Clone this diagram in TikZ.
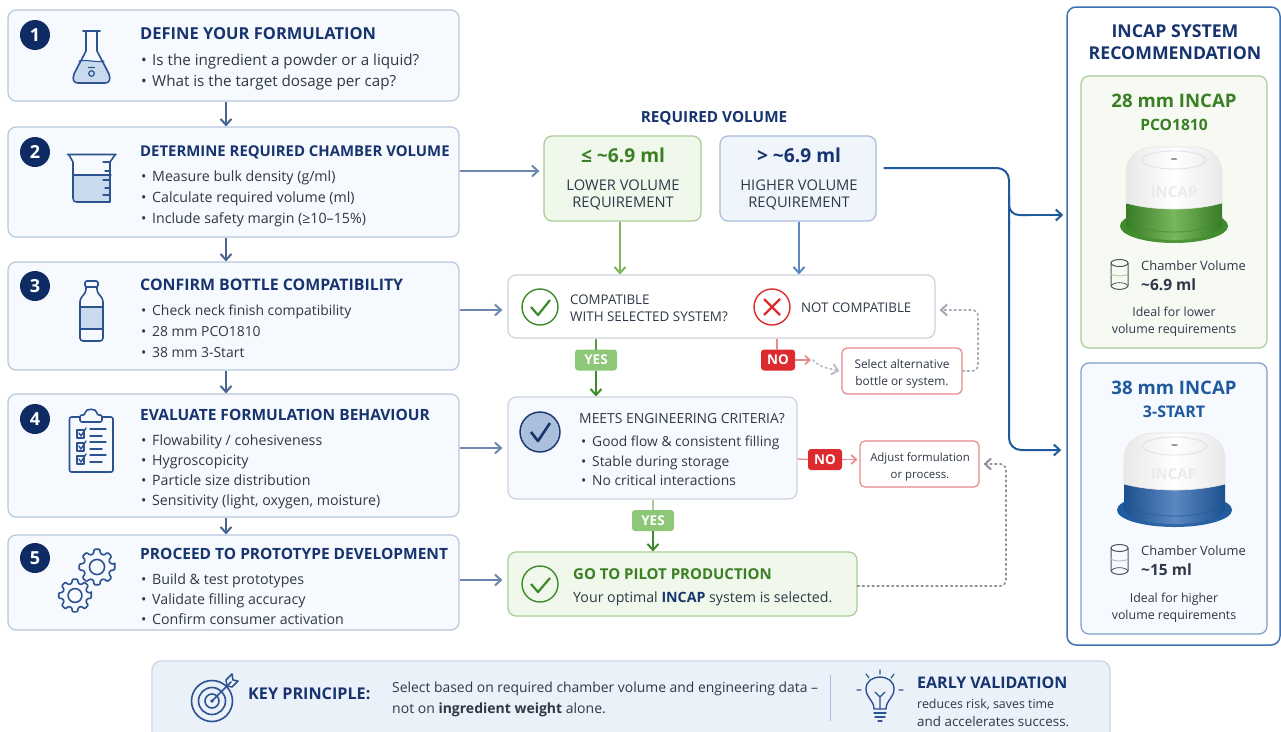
\documentclass[tikz,border=0pt]{standalone}
\usepackage{fontspec}
\setmainfont{Open Sans}
\usetikzlibrary{arrows.meta,calc,positioning}
\newcommand{\fsz}[1]{\fontsize{#1pt}{#1pt}\selectfont}
\definecolor{navy}{HTML}{17346F}
\definecolor{badge}{HTML}{0E2C63}
\definecolor{ink}{HTML}{2F3848}
\definecolor{icon}{HTML}{2C528F}
\definecolor{iconfill}{HTML}{C9DAEE}
\definecolor{stepfill}{HTML}{F6F9FD}
\definecolor{stepline}{HTML}{B7C7DE}
\definecolor{gfill}{HTML}{F0F7EB}
\definecolor{gline}{HTML}{A8CC96}
\definecolor{gtitle}{HTML}{3B7F24}
\definecolor{gdark}{HTML}{3E8A2B}
\definecolor{garrow}{HTML}{78B75C}
\definecolor{gyes}{HTML}{8CC877}
\definecolor{bfill}{HTML}{F0F5FB}
\definecolor{bline}{HTML}{A6BCDB}
\definecolor{barrow}{HTML}{5B87C2}
\definecolor{flowc}{HTML}{6F87AE}
\definecolor{flowd}{HTML}{48658F}
\definecolor{mline}{HTML}{CDD3DC}
\definecolor{redc}{HTML}{DC2A2E}
\definecolor{redl}{HTML}{E7888B}
\definecolor{dotc}{HTML}{A3A9B5}
\definecolor{panelc}{HTML}{3F72B5}
\definecolor{route}{HTML}{1F5A9E}
\definecolor{card}{HTML}{7F9DC6}
\definecolor{keyfill}{HTML}{EBF1F9}
\tikzset{
  x=1pt,y=-1pt,
  rbox/.style={inner sep=0pt,rounded corners=#1,line width=1.2pt},
  rbox/.default=8pt,
  stepbox/.style={rbox,draw=stepline,fill=stepfill,minimum width=451pt},
  greenbox/.style={rbox,draw=gline,fill=gfill},
  bluebox/.style={rbox,draw=bline,fill=bfill},
  whitebox/.style={rbox,draw=mline,fill=white},
  redbox/.style={rbox=5pt,draw=redl,fill=white},
  badgec/.style={circle,fill=badge,text=white,minimum size=30pt,inner sep=0pt,font=\fsz{18}\bfseries},
  lbl/.style={inner sep=0pt,text height=7.2pt,text depth=2pt,anchor=west,yshift=-3pt},
  clbl/.style={inner sep=0pt,text height=7.2pt,text depth=2pt,anchor=center,yshift=-3pt},
  title/.style={lbl,font=\fsz{#1}\bfseries,text=navy},
  title/.default=15.5,
  body/.style={lbl,font=\fsz{#1},text=ink},
  body/.default=14.2,
  small/.style={clbl,font=\fsz{#1},text=ink},
  small/.default=11.4,
  caps/.style={clbl,font=\fsz{14.7},text=ink},
  tag/.style={rbox=3pt,text=white,font=\fsz{13.5}\bfseries,minimum height=21pt,line width=0pt},
  flow/.style={-{Straight Barb[length=6pt,width=11pt,line width=2pt]},line width=2pt,color=flowc},
  flowdn/.style={flow,color=flowd},
  dotflow/.style={-{Straight Barb[length=6pt,width=11pt,line width=2pt]},color=dotc,line width=1.7pt,dash pattern=on 1.7pt off 3.2pt,line cap=round,rounded corners=6pt},
  ic/.style={color=icon,line width=1.6pt,line join=round,line cap=round},
}
\newcommand{\bul}[1]{\makebox[11pt][l]{•}#1}
% cap drawing: cx, top, rx, bandtop, flange cy, flange rx, flange ry, dark, light
\newcommand{\incapcap}[9]{
  \shade[left color=#8,right color=#8,middle color=#8!70!#9] (#1,#5) ellipse[x radius=#6,y radius=#7];
  \shade[left color=#8!90!black,right color=#8!90!black,middle color=#9]
    (#1-#3,#4) -- (#1-#3,#5) .. controls (#1-#3+12,#5+#7*1.1) and (#1+#3-12,#5+#7*1.1) .. (#1+#3,#5) -- (#1+#3,#4) -- cycle;
  \draw[#8,line width=1pt,opacity=.6] (#1-#3,#5-8) .. controls (#1-#3+12,#5-8+#7*1.1) and (#1+#3-12,#5-8+#7*1.1) .. (#1+#3,#5-8);
  \shade[left color=black!9,right color=black!9,middle color=white,draw=black!10,line width=.6pt]
    (#1-#3,#4) -- (#1-#3,#2+27) .. controls (#1-#3,#2+8) and (#1-#3+14,#2) .. (#1-20,#2)
    -- (#1+20,#2) .. controls (#1+#3-14,#2) and (#1+#3,#2+8) .. (#1+#3,#2+27)
    -- (#1+#3,#4) .. controls (#1+20,#4+8) and (#1-20,#4+8) .. cycle;
  \draw[black!12,line width=.8pt] (#1,#2+13) ellipse[x radius=32,y radius=9];
  \fill[black!40] (#1,#2+12) ellipse[x radius=3.5,y radius=1];
}
\newcommand{\cyl}[4]{% cx, top, bottom, level colour
  \draw[color=ink!85,line width=1pt] (#1,#2) ellipse[x radius=8.5,y radius=3.5];
  \draw[color=ink!85,line width=1pt] (#1-8.5,#2) -- (#1-8.5,#3) .. controls (#1-6,#3+4.5) and (#1+6,#3+4.5) .. (#1+8.5,#3) -- (#1+8.5,#2);
  \draw[color=ink!85,line width=.8pt] (#1-8.5,#3) .. controls (#1-6,#3-4.5) and (#1+6,#3-4.5) .. (#1+8.5,#3);
  \draw[color=#4,line width=.9pt] (#1-8.5,#2+11) .. controls (#1-6,#2+13.5) and (#1+6,#2+13.5) .. (#1+8.5,#2+11);
}
\newcommand{\gearic}[3]{% cx, cy, outer radius
  \draw[ic,rounded corners=1pt] ($(#1,#2)+(-9:#3)$)
    \foreach \t in {0,45,...,315}{
      -- ($(#1,#2)+(\t-9:#3)$) -- ($(#1,#2)+(\t+9:#3)$)
      -- ($(#1,#2)+(\t+15:#3*0.76)$) -- ($(#1,#2)+(\t+30:#3*0.76)$)
    } -- cycle;
  \draw[ic] (#1,#2) circle[radius=#3*0.42];
}
\begin{document}
\begin{tikzpicture}
\useasboundingbox (0,0) rectangle (1281,731);
\fill[white] (0,0) rectangle (1281,731);
\begin{scope}
\clip (0,0) rectangle (1281,731);

% ---------- Steps
\node[stepbox,minimum height=91pt]  (s1) at (233.5,55.5) {};
\node[stepbox,minimum height=110pt] (s2) at (233.5,182) {};
\node[stepbox,minimum height=108pt] (s3) at (233.5,316) {};
\node[stepbox,minimum height=123pt] (s4) at (233.5,455.5) {};
\node[stepbox,minimum height=95pt]  (s5) at (233.5,582.5) {};

\node[badgec] (b1) at (35,35) {1};
\node[badgec] (b2) at (35,152) {2};
\node[badgec] (b3) at (35,286) {3};
\node[badgec] (b4) at (35,419) {4};
\node[badgec] (b5) at (35,558) {5};

\node[title=16.5] (t1) at (140,33.5) {DEFINE YOUR FORMULATION};
\node[body=15.2] (t1a) at (141,60) {\bul{Is the ingredient a powder or a liquid?}};
\node[body=15.2] (t1b) at (141,81) {\bul{What is the target dosage per cap?}};

\node[title=14.9] (t2) at (140,150.5) {DETERMINE REQUIRED CHAMBER VOLUME};
\node[body] (t2a) at (141,176) {\bul{Measure bulk density (g/ml)}};
\node[body] (t2b) at (141,197) {\bul{Calculate required volume (ml)}};
\node[body] (t2c) at (141,218) {\bul{Include safety margin (≥10–15\%)}};

\node[title=15.9] (t3) at (140,284.5) {CONFIRM BOTTLE COMPATIBILITY};
\node[body=13.9] (t3a) at (141,310) {\bul{Check neck finish compatibility}};
\node[body=13.9] (t3b) at (141,331) {\bul{28 mm PCO1810}};
\node[body=13.9] (t3c) at (141,352) {\bul{38 mm 3-Start}};

\node[title] (t4) at (140,415) {EVALUATE FORMULATION BEHAVIOUR};
\node[body] (t4a) at (141,440) {\bul{Flowability / cohesiveness}};
\node[body] (t4b) at (141,460) {\bul{Hygroscopicity}};
\node[body] (t4c) at (141,480) {\bul{Particle size distribution}};
\node[body] (t4d) at (141,500) {\bul{Sensitivity (light, oxygen, moisture)}};

\node[title] (t5) at (140,554) {PROCEED TO PROTOTYPE DEVELOPMENT};
\node[body] (t5a) at (141,579) {\bul{Build \& test prototypes}};
\node[body] (t5b) at (141,599) {\bul{Validate filling accuracy}};
\node[body] (t5c) at (141,619) {\bul{Confirm consumer activation}};

% ---------- Step icons
% flask
\fill[iconfill] (79,61) -- (104,61) -- (110,75) -- (107,83) -- (76,83) -- (73,75) -- cycle;
\draw[ic] (83,31) -- (100,31) (86,31) -- (86,51) -- (74,74) .. controls (72,80) and (74,83) .. (78,83) -- (105,83) .. controls (109,83) and (111,80) .. (109,74) -- (97,51) -- (97,31);
\draw[ic,line width=1.1pt] (79,61) .. controls (86,59) and (96,63) .. (104,61);
\draw[ic,line width=1.2pt] (91.5,73.5) circle[radius=2.8] (88.5,67.5) -- (94.5,67.5);
% beaker
\fill[iconfill] (73,175) -- (111,175) -- (110,202) -- (74,202) -- cycle;
\draw[ic] (67.5,154.5) -- (116,154.5) (69,155) -- (73,162) -- (73,198) .. controls (73,201) and (74,202) .. (77,202) -- (110,202) -- (110,162) -- (115,155);
\draw[ic,line width=1.1pt] (73,175) -- (111,175);
\draw[ic,line width=1.1pt] (103,162) -- (110,162) (105,171) -- (110,171) (103,180) -- (110,180) (105,188) -- (110,188) (103,195) -- (110,195);
% bottle
\fill[iconfill] (80,307) rectangle (103,329);
\draw[ic,rounded corners=1.5pt] (85,281) rectangle (98,287);
\draw[ic,rounded corners=3pt] (86,287) -- (86,292) -- (80,299) -- (80,341) -- (103,341) -- (103,299) -- (97,292) -- (97,287);
\draw[ic,line width=1.1pt] (80,307) -- (103,307) (80,329) -- (103,329);
% clipboard
\draw[ic,rounded corners=2pt] (69.5,417) rectangle (113,472);
\draw[ic,fill=stepfill,rounded corners=2pt] (80,415) -- (85,415) .. controls (85,408) and (97,408) .. (97,415) -- (102,415) -- (102,422) -- (80,422) -- cycle;
\foreach \yy/\nm in {433/a,446/b,459/c}{
  \draw[ic,line width=1.4pt] (77,\yy-3) rectangle (84,\yy+5);
  \draw[ic,line width=1.4pt] (79,\yy) -- (81,\yy+3) -- (86,\yy-5);
  \draw[ic,line width=1.4pt] (90,\yy-4) -- (106,\yy-4) (90,\yy+3) -- (102,\yy+3);
}
% gears
\gearic{97}{567}{18}
\gearic{75}{595.5}{16.5}

% ---------- Step connectors
\draw[flowdn] ([xshift=-7.5pt]s1.south) -- ([xshift=-7.5pt]s2.north);
\draw[flowdn] ([xshift=-7.5pt]s2.south) -- ([xshift=-7.5pt]s3.north);
\draw[flowdn] ([xshift=-7.5pt]s3.south) -- ([xshift=-7.5pt]s4.north);
\draw[flowdn] ([xshift=-7.5pt]s4.south) -- ([xshift=-7.5pt]s5.north);

% ---------- Required volume
\node[clbl,font=\fsz{15.3}\bfseries,text=navy] (rv) at (714,116.5) {REQUIRED VOLUME};
\node[greenbox,minimum width=157pt,minimum height=85pt] (lo) at (622.5,178.5) {};
\node[bluebox,minimum width=156pt,minimum height=85pt] (hi) at (798,178.5) {};
\node[clbl,font=\fsz{19.2}\bfseries,text=gtitle] (lo1) at (623,157) {≤ \textasciitilde6.9 ml};
\node[caps] (lo2) at (623,184.5) {LOWER VOLUME};
\node[caps] (lo3) at (623,202) {REQUIREMENT};
\node[clbl,font=\fsz{19.2}\bfseries,text=navy] (hi1) at (799,157) {> \textasciitilde6.9 ml};
\node[caps] (hi2) at (799,184.5) {HIGHER VOLUME};
\node[caps] (hi3) at (799,202) {REQUIREMENT};

% ---------- Compatibility
\node[whitebox,minimum width=427pt,minimum height=63pt] (cp) at (721.5,306.5) {};
\node[circle,draw=gdark,line width=1.4pt,minimum size=36pt,inner sep=0pt] (cc) at (540,307) {};
\draw[gdark,line width=2.2pt,line join=round] (531,307) -- (538,315) -- (550,300);
\node[lbl,font=\fsz{13.3},text=ink] (cp1) at (570,299) {COMPATIBLE};
\node[lbl,font=\fsz{13.4},text=ink] (cp2) at (570,316) {WITH SELECTED SYSTEM?};
\node[circle,draw=redc,line width=1.4pt,minimum size=36pt,inner sep=0pt] (cx) at (772,307) {};
\draw[redc,line width=2.2pt] (764,299) -- (780,315) (780,299) -- (764,315);
\node[lbl,font=\fsz{13.3},text=ink] (cp3) at (801,307) {NOT COMPATIBLE};

\draw[flow,color=garrow] ([xshift=-2.5pt]lo.south) -- ([xshift=-101.5pt]cp.north);
\draw[flow,color=barrow] ([xshift=1pt]hi.south) -- ([xshift=77.5pt]cp.north);

\node[tag,fill=gyes,minimum width=42pt] (y1) at (596,360) {YES};
\node[tag,fill=redc,minimum width=34pt] (n1) at (778,360) {NO};
\node[redbox,minimum width=120pt,minimum height=46pt] (alt) at (902,371) {};
\node[small=11.9] (alt1) at (902,363) {Select alternative};
\node[small=11.9] (alt2) at (902,380) {bottle or system.};

% ---------- Engineering criteria
\node[whitebox,fill=stepfill,minimum width=289pt,minimum height=102pt] (mt) at (652.5,448) {};
\node[circle,draw=navy,fill=iconfill!80!icon,line width=1.4pt,minimum size=40pt,inner sep=0pt] (mc) at (540,432) {};
\draw[navy,line width=2.6pt,line join=round] (531,432) -- (538,441) -- (550,423);
\node[lbl,font=\fsz{13.9},text=ink] (mt0) at (579,418) {MEETS ENGINEERING CRITERIA?};
\node[body=13.8] (mt1) at (581,441) {\bul{Good flow \& consistent filling}};
\node[body=13.8] (mt2) at (581,461) {\bul{Stable during storage}};
\node[body=13.8] (mt3) at (581,480) {\bul{No critical interactions}};
\node[tag,fill=redc,minimum width=34pt] (n2) at (825,459.5) {NO};
\node[redbox,minimum width=119pt,minimum height=46pt] (adj) at (919.5,464) {};
\node[small] (adj1) at (920,456) {Adjust formulation};
\node[small] (adj2) at (920,473) {or process.};
\node[tag,fill=gyes,minimum width=42pt] (y2) at (653,520.5) {YES};

% ---------- Pilot
\node[greenbox,minimum width=349pt,minimum height=64pt] (pl) at (682.5,584) {};
\node[circle,draw=gdark,line width=1.4pt,minimum size=36pt,inner sep=0pt] (pc) at (540,584) {};
\draw[gdark,line width=2.2pt,line join=round] (531,584) -- (538,592) -- (550,578);
\node[lbl,font=\fsz{15}\bfseries,text=gtitle] (pl1) at (573,574) {GO TO PILOT PRODUCTION};
\node[body] (pl2) at (573,597) {Your optimal \textcolor{navy}{\textbf{INCAP}} system is selected.};

% ---------- Left-to-middle arrows
\draw[flow] ([yshift=11pt]s2.east) -- ([yshift=7.5pt,xshift=-4pt]lo.west);
\draw[flow] ([yshift=6pt]s3.east) -- ([yshift=-3.5pt,xshift=-5pt]cp.west);
\draw[flow] ([yshift=7.5pt]s4.east) -- ([xshift=-5pt]mt.west);
\draw[flow] ([yshift=2.5pt]s5.east) -- ([yshift=4pt,xshift=-5pt]pl.west);

% ---------- Decision connectors
\draw[color=gdark!70!gyes,line width=1.8pt] ([xshift=-125.5pt]cp.south) -- (y1.north);
\draw[flow,color=gdark] (y1.south) -- ([xshift=-56.5pt]mt.north);
\draw[color=redl,line width=1.3pt] ([xshift=55.5pt]cp.south) -- ([xshift=-1pt]n1.north);
\draw[-{Straight Barb[length=5pt,width=9pt,line width=1.6pt]},color=redl,line width=1.7pt] (n1.east) -- ++(16,0) coordinate (n1e);
\draw[dotflow,color=dotc!75] (n1e) ++(2,0) -- ++(6,6) -- ([yshift=0pt,xshift=-2pt]alt.west);
\draw[dotflow] (alt.east) -- (978,371) -- (978,310) -- ([yshift=-3.5pt,xshift=4pt]cp.east);

\draw[color=redl,line width=1.3pt] ([yshift=-11pt]mt.east) -- (n2.west);
\draw[-{Straight Barb[length=5pt,width=9pt,line width=1.6pt]},color=redl,line width=1.7pt] (n2.east) -- ([yshift=4.5pt,xshift=-2pt]adj.west);
\draw[color=gline,line width=1.8pt] ([xshift=.5pt]mt.south) -- (y2.north);
\draw[flow,color=gdark] (y2.south) -- ([xshift=-29.5pt]pl.north);
\draw[dotflow,color=dotc!85!black] ([yshift=-2pt]pl.east) -- (1006,586) -- (1006,464) -- ([xshift=4pt]adj.east);

% ---------- Panel
\node[rbox=9pt,draw=panelc,fill=white,line width=1.5pt,minimum width=213pt,minimum height=638pt] (pn) at (1173.5,326) {};
\node[clbl,font=\fsz{17.7}\bfseries,text=navy] (pn1) at (1175,32) {INCAP SYSTEM};
\node[clbl,font=\fsz{17.7}\bfseries,text=navy] (pn2) at (1175,54) {RECOMMENDATION};

\node[rbox,draw=gline,fill=gfill!60!white,minimum width=186pt,minimum height=272pt] (c1) at (1174,212) {};
\node[rbox,draw=card,fill=bfill!60!white,minimum width=186pt,minimum height=271pt] (c2) at (1174,498.5) {};

\node[clbl,font=\fsz{18.6}\bfseries,text=gtitle] (c1a) at (1174,101.5) {28 mm INCAP};
\node[clbl,font=\fsz{15.6}\bfseries,text=gtitle] (c1b) at (1174,125) {PCO1810};
\incapcap{1174}{147}{48}{203}{226}{54}{17}{gdark}{garrow}
\node[clbl,font=\fsz{15}\bfseries,text=black!8] (c1g) at (1174,192) {INCAP};
\cyl{1119.5}{263}{286}{gline}
\node[lbl,font=\fsz{12.9},text=ink] (c1c) at (1141,265) {Chamber Volume};
\node[lbl,font=\fsz{15.5}\bfseries,text=ink] (c1d) at (1141,285) {\textasciitilde6.9 ml};
\node[small=12.4] (c1e) at (1174,311) {Ideal for lower};
\node[small=12.4] (c1f) at (1174,328) {volume requirements};

\node[clbl,font=\fsz{18.6}\bfseries,text=route] (c2a) at (1174,388.5) {38 mm INCAP};
\node[clbl,font=\fsz{16}\bfseries,text=route] (c2b) at (1174,412) {3-START};
\incapcap{1174.5}{433}{50.5}{484}{510}{57.5}{17}{route}{barrow}
\node[clbl,font=\fsz{15}\bfseries,text=black!8] (c2g) at (1174,474) {INCAP};
\cyl{1119.5}{548}{571}{bline}
\node[lbl,font=\fsz{12.9},text=ink] (c2c) at (1141,550) {Chamber Volume};
\node[lbl,font=\fsz{15.5}\bfseries,text=ink] (c2d) at (1141,570) {\textasciitilde15 ml};
\node[small=12.4] (c2e) at (1174,597) {Ideal for higher};
\node[small=12.4] (c2f) at (1174,614) {volume requirements};

% ---------- Routes into the panel
\draw[color=route,line width=2pt,rounded corners=12pt] ([xshift=7pt,yshift=10.5pt]hi.east) -- (1009,168) -- (1009,225);
\draw[color=route,line width=2pt,rounded corners=10pt] (1009,195) -- (1009,215) -- (1030,215);
\draw[color=route,-{Straight Barb[length=6pt,width=11pt,line width=2pt]},line width=2pt] (1020,215) -- ([xshift=-3pt,yshift=111pt]pn.west);
\draw[color=route,-{Straight Barb[length=6pt,width=11pt,line width=2pt]},line width=2pt,rounded corners=12pt] (1009,220) -- (1009,450) -- ([xshift=-5pt,yshift=-124pt]pn.west);

% ---------- Footer
\node[rbox=9pt,draw=bline!60,fill=keyfill,minimum width=958pt,minimum height=90pt] (ft) at (631,706) {};
\draw[ic] (212,701) circle[radius=20.5] (212,701) circle[radius=13.5] (212,701) circle[radius=7];
\fill[icon] (212,701) circle[radius=1.8];
\draw[ic] (212,701) -- (231,682);
\draw[ic,line width=1.5pt] (226,680) -- (232,674) -- (233,680) -- (238,681) -- (232,687) -- (227,686) -- cycle;
\node[lbl,font=\fsz{16.2}\bfseries,text=navy] (kp) at (248,693.5) {KEY PRINCIPLE:};
\node[lbl,font=\fsz{13.9},text=ink] (kp1) at (392,687) {Select based on required chamber volume and engineering data –};
\node[lbl,font=\fsz{14},text=ink] (kp2) at (392,708) {not on \textbf{ingredient weight} alone.};
\draw[color=bline,line width=1pt] (830,675) -- (830,721);
% bulb
\draw[ic,line width=1.4pt] (874,709) .. controls (874,700) and (866,698) .. (866,689) .. controls (866,681) and (873,677) .. (880,677) .. controls (887,677) and (894,681) .. (894,689) .. controls (894,698) and (886,700) .. (886,709) -- cycle;
\draw[ic,line width=1.3pt] (874,713) -- (886,713) (875,717) -- (885,717) (878,721) -- (882,721);
\draw[ic,line width=1.2pt] (880,709) -- (880,696) (875,692) -- (880,697) -- (885,692);
\draw[ic,line width=1.2pt] (880,670) -- (880,674) (866,674) -- (869,678) (894,674) -- (891,678) (857,690) -- (861,690) (899,690) -- (903,690);
\node[lbl,font=\fsz{16}\bfseries,text=navy] (ev) at (917,682.5) {EARLY VALIDATION};
\node[lbl,font=\fsz{12.4},text=ink] (ev1) at (917,703) {reduces risk, saves time};
\node[lbl,font=\fsz{13.4},text=ink] (ev2) at (917,721) {and accelerates success.};
\end{scope}
\end{tikzpicture}
\end{document}
